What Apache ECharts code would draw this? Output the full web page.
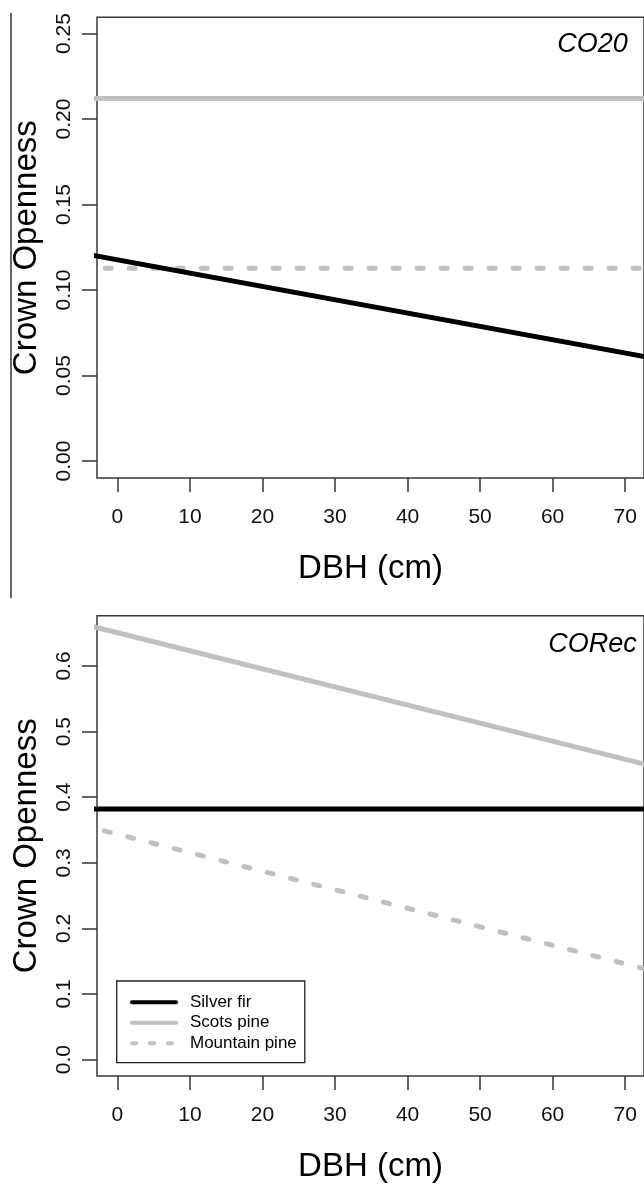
<!DOCTYPE html>
<html>
<head>
<meta charset="utf-8">
<script src="https://cdn.jsdelivr.net/npm/echarts@6/dist/echarts.min.js"></script>
<style>
  html, body { margin: 0; padding: 0; background: #fff; }
  #chart { width: 644px; height: 1185px; }
</style>
</head>
<body>
<div id="chart"></div>
<script>
// ---- data ----
const seriesNames = ['Silver fir', 'Scots pine', 'Mountain pine'];
const dbh = [-5, 80];                       // DBH (cm) end points of fitted lines
const co20SilverFir = [0.1216, 0.0554];
const co20ScotsPine = [0.212, 0.212];
const co20MountainPine = [0.1127, 0.1127];
const coRecSilverFir = [0.382, 0.382];
const coRecScotsPine = [0.6645, 0.4302];
const coRecMountainPine = [0.3577, 0.1178];
const xTicks = [0, 10, 20, 30, 40, 50, 60, 70];
const co20Ticks = [0, 0.05, 0.10, 0.15, 0.20, 0.25];
const coRecTicks = [0, 0.1, 0.2, 0.3, 0.4, 0.5, 0.6];
const panelLabels = ['CO20', 'CORec'];

const FONT = 'Liberation Sans, Arial, Helvetica, sans-serif';
const GRAY = '#c0c0c0';
const AXC = '#333';

function pairs(ys) { return dbh.map((x, i) => [x, ys[i]]); }

const styles = {
  'Silver fir': { color: '#000', type: 'solid' },
  'Scots pine': { color: GRAY, type: 'solid' },
  'Mountain pine': { color: GRAY, type: [6, 18] }
};

function mkSeries(name, ys, idx) {
  return {
    name: name, type: 'line', xAxisIndex: idx, yAxisIndex: idx,
    data: pairs(ys), symbol: 'none', clip: true, silent: true,
    lineStyle: { width: 5, color: styles[name].color, type: styles[name].type, cap: 'round' },
    itemStyle: { color: styles[name].color },
    z: name === 'Silver fir' ? 3 : 2
  };
}

function xAxisCfg(idx) {
  return {
    type: 'value', gridIndex: idx, min: -2.82, max: 72.6, position: 'bottom',
    name: 'DBH (cm)', nameLocation: 'middle', nameGap: 74,
    nameTextStyle: { fontSize: 33, color: '#000', fontFamily: FONT },
    axisLine: { show: false, onZero: false },
    splitLine: { show: false },
    axisTick: { show: true, inside: false, length: 14, customValues: xTicks, lineStyle: { color: AXC, width: 1.5 } },
    axisLabel: { customValues: xTicks, fontSize: 21, color: '#111', fontFamily: FONT, margin: 29 }
  };
}

function yAxisCfg(idx, min, max, ticks, dec) {
  return {
    type: 'value', gridIndex: idx, min: min, max: max, position: 'left',
    name: 'Crown Openness', nameLocation: 'middle', nameGap: 54,
    nameTextStyle: { fontSize: 33, color: '#000', fontFamily: FONT },
    axisLine: { show: false, onZero: false },
    splitLine: { show: false },
    axisTick: { show: true, inside: false, length: 15, customValues: ticks, lineStyle: { color: AXC, width: 1.5 } },
    axisLabel: { customValues: ticks, rotate: 90, fontSize: 21, color: '#111', fontFamily: FONT, margin: 22,
      formatter: v => Number(v).toFixed(dec) }
  };
}

const chart = echarts.init(document.getElementById('chart'), null, { renderer: 'canvas' });
chart.setOption({
  animation: false,
  backgroundColor: '#fff',
  grid: [
    { left: 97, top: 17.3, width: 549, height: 460.7, show: true, borderColor: '#3a3a3a', borderWidth: 1.5, backgroundColor: 'transparent' },
    { left: 97, top: 615.7, width: 549, height: 460.3, show: true, borderColor: '#3a3a3a', borderWidth: 1.5, backgroundColor: 'transparent' }
  ],
  xAxis: [xAxisCfg(0), xAxisCfg(1)],
  yAxis: [
    yAxisCfg(0, -0.0099, 0.2595, co20Ticks, 2),
    yAxisCfg(1, -0.025, 0.6767, coRecTicks, 1)
  ],
  legend: {
    orient: 'vertical', left: 116.7, top: 981,
    data: [
      { name: seriesNames[0] },
      { name: seriesNames[1] },
      { name: seriesNames[2], lineStyle: { type: [4, 14], cap: 'round' } }
    ],
    borderColor: '#222', borderWidth: 1.3, borderRadius: 0,
    padding: [12.8, 8, 10.9, 13.3],
    itemWidth: 44, itemHeight: 14, itemGap: 3.5,
    selectedMode: false,
    lineStyle: { width: 4 },
    itemStyle: { color: 'rgba(0,0,0,0)', borderWidth: 0, opacity: 0 },
    textStyle: { fontSize: 17, lineHeight: 17, color: '#000', fontFamily: FONT, padding: [0, 0, 0, 9] }
  },
  graphic: [
    { type: 'line', shape: { x1: 11, y1: 13, x2: 11, y2: 598 }, style: { stroke: '#000', lineWidth: 1.2 }, silent: true },
    { type: 'text', x: 627.7, y: 44, style: { text: panelLabels[0], fontSize: 27, fontStyle: 'italic', fontFamily: FONT, fill: '#000', textAlign: 'right', textVerticalAlign: 'middle' } },
    { type: 'text', x: 636.7, y: 644, style: { text: panelLabels[1], fontSize: 27, fontStyle: 'italic', fontFamily: FONT, fill: '#000', textAlign: 'right', textVerticalAlign: 'middle' } }
  ],
  series: [
    mkSeries('Silver fir', co20SilverFir, 0),
    mkSeries('Scots pine', co20ScotsPine, 0),
    mkSeries('Mountain pine', co20MountainPine, 0),
    mkSeries('Silver fir', coRecSilverFir, 1),
    mkSeries('Scots pine', coRecScotsPine, 1),
    mkSeries('Mountain pine', coRecMountainPine, 1)
  ]
});
</script>
</body>
</html>
